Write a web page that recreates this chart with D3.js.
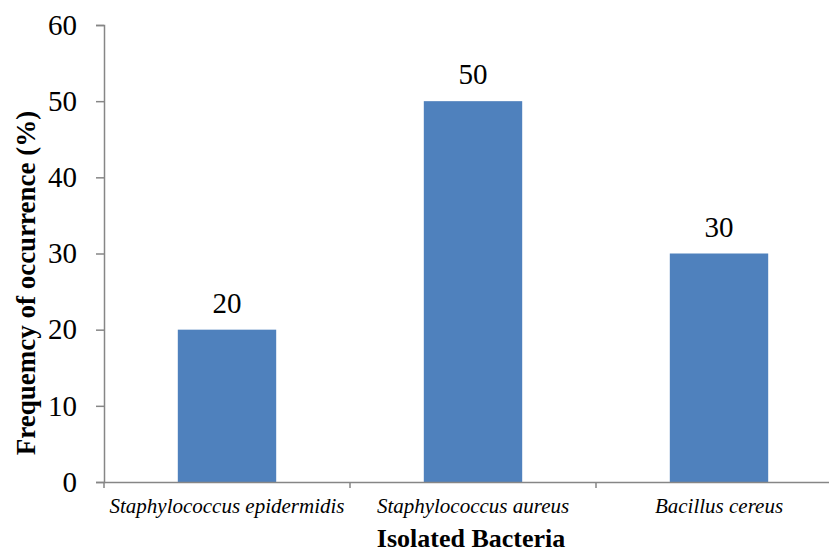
<!DOCTYPE html>
<html>
<head>
<meta charset="utf-8">
<script src="https://cdn.jsdelivr.net/npm/d3@7"></script>
<style>
  html, body { margin: 0; padding: 0; background: #fff; }
  svg { display: block; }
</style>
</head>
<body>
<svg id="chart" width="829" height="554"></svg>
<script>
const categories = ["Staphylococcus epidermidis", "Staphylococcus aureus", "Bacillus cereus"];
const values = [20, 50, 30];
const yTicks = [0, 10, 20, 30, 40, 50, 60];

const svg = d3.select("#chart");
const plotLeft = 104, plotRight = 842, plotTop = 25, plotBottom = 482;
const font = "Liberation Serif";
const axisColor = "#868686";

const x = d3.scaleBand().domain(categories).range([plotLeft, plotRight]).paddingInner(0).paddingOuter(0);
const y = d3.scaleLinear().domain([0, 60]).range([plotBottom, plotTop]);

// Bars
const barW = x.bandwidth() * 0.4;
svg.selectAll("rect.bar").data(values).join("rect")
  .attr("class", "bar")
  .attr("x", (d, i) => x(categories[i]) + (x.bandwidth() - barW) / 2)
  .attr("y", d => y(d))
  .attr("width", barW)
  .attr("height", d => y(0) - y(d))
  .attr("fill", "#4F81BD");

// Value labels above each bar
svg.selectAll("text.val").data(values).join("text")
  .attr("class", "val")
  .attr("x", (d, i) => x(categories[i]) + x.bandwidth() / 2)
  .attr("y", d => y(d) - 17)
  .attr("text-anchor", "middle")
  .style("font-family", font).style("font-size", "29px").attr("fill", "#000")
  .text(d => d);

// Y axis
const yAxis = svg.append("g").attr("transform", `translate(${plotLeft},0)`)
  .call(d3.axisLeft(y).tickValues(yTicks).tickSize(8).tickPadding(19));
yAxis.select(".domain").attr("stroke", axisColor).attr("stroke-width", 1.5);
yAxis.selectAll(".tick line").attr("stroke", axisColor).attr("stroke-width", 1.5);
yAxis.selectAll(".tick text").style("font-family", font).style("font-size", "29px").attr("fill", "#000");

// X axis
const xAxis = svg.append("g").attr("transform", `translate(0,${plotBottom})`)
  .call(d3.axisBottom(x).tickSize(0).tickPadding(16));
xAxis.select(".domain").attr("stroke", axisColor).attr("stroke-width", 1.5);
xAxis.selectAll(".tick text").attr("dy", null).attr("y", 31)
  .style("font-family", font).style("font-size", "21px")
  .style("font-style", "italic").attr("fill", "#000");

// Category boundary ticks
const bounds = categories.map(c => x(c)).concat([plotRight]);
svg.selectAll("line.bt").data(bounds).join("line")
  .attr("class", "bt")
  .attr("x1", d => d).attr("x2", d => d)
  .attr("y1", plotBottom).attr("y2", plotBottom + 6)
  .attr("stroke", axisColor).attr("stroke-width", 1.5);

// Axis titles
svg.append("text")
  .attr("x", 471).attr("y", 547)
  .attr("text-anchor", "middle")
  .style("font-family", font).style("font-size", "26px").style("font-weight", "bold")
  .text("Isolated Bacteria");

svg.append("text")
  .attr("transform", "translate(35,283) rotate(-90)")
  .attr("text-anchor", "middle")
  .style("font-family", font).style("font-size", "27px").style("font-weight", "bold")
  .text("Frequemcy of occurrence (%)");
</script>
</body>
</html>
